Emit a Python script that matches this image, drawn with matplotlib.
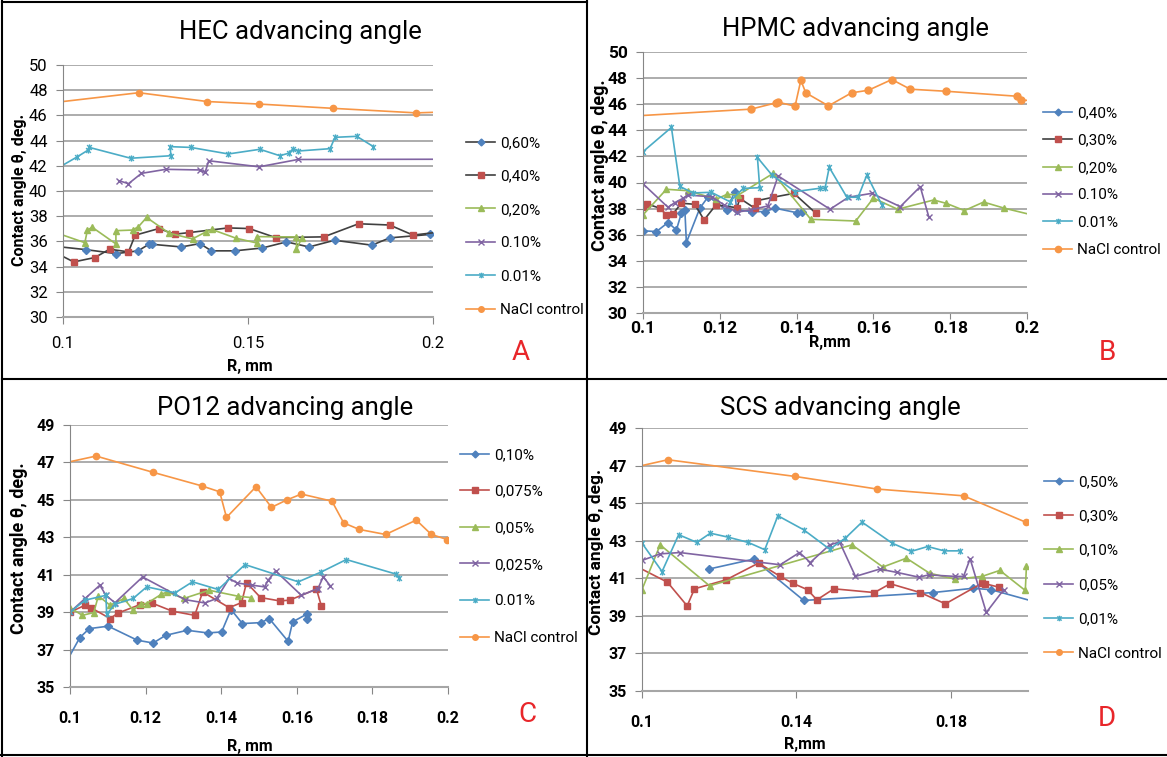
import matplotlib
matplotlib.use("Agg")
import matplotlib.pyplot as plt
from matplotlib.lines import Line2D
from matplotlib.path import Path
from matplotlib import font_manager

# ---------------- data ----------------
# A: HEC
hec_labels = ["0,60%", "0,40%", "0,20%", "0.10%", "0.01%", "NaCl control"]
hec_060_x = [0.095, 0.1061, 0.1144, 0.1203, 0.1232, 0.1241, 0.132, 0.137, 0.1401, 0.1464,
             0.1539, 0.1604, 0.1665, 0.1734, 0.1835, 0.1883, 0.1991, 0.205]
hec_060_y = [35.7, 35.35, 35.03, 35.25, 35.77, 35.77, 35.56, 35.83, 35.25, 35.25,
             35.48, 35.96, 35.56, 36.09, 35.7, 36.28, 36.55, 36.6]
hec_040_x = [0.098, 0.1029, 0.1086, 0.1126, 0.1177, 0.1195, 0.1259, 0.1302, 0.1341, 0.1446,
             0.1503, 0.1575, 0.1705, 0.1799, 0.1883, 0.1946, 0.205]
hec_040_y = [35.1, 34.37, 34.72, 35.38, 35.17, 36.49, 37.02, 36.57, 36.7, 37.07,
             37.02, 36.3, 36.36, 37.4, 37.3, 36.5, 36.85]
hec_020_x = [0.098, 0.1059, 0.1066, 0.1079, 0.1143, 0.1143, 0.1188, 0.1204, 0.1226, 0.1287,
             0.135, 0.1386, 0.1402, 0.1468, 0.1523, 0.1523, 0.1631, 0.1631, 0.1645]
hec_020_y = [36.7, 35.9, 36.9, 37.12, 35.8, 36.85, 36.9, 37.17, 37.9, 36.65,
             36.2, 36.75, 36.95, 36.25, 35.88, 36.38, 36.35, 35.37, 36.25]
hec_010_x = [0.1151, 0.1177, 0.1212, 0.1278, 0.1371, 0.1384, 0.1394, 0.153, 0.1635, 0.22]
hec_010_y = [40.82, 40.58, 41.4, 41.72, 41.67, 41.47, 42.4, 41.92, 42.5, 42.53]
hec_001_x = [0.097, 0.1039, 0.1068, 0.1071, 0.1183, 0.1292, 0.1289, 0.1345, 0.1447, 0.1532,
             0.1586, 0.161, 0.1622, 0.1634, 0.1722, 0.1735, 0.1794, 0.1839]
hec_001_y = [41.55, 42.72, 43.25, 43.46, 42.6, 42.8, 43.52, 43.46, 42.94, 43.31,
             42.8, 43.0, 43.36, 43.17, 43.36, 44.26, 44.34, 43.52]
hec_nacl_x = [0.09, 0.1205, 0.139, 0.153, 0.173, 0.1955, 0.206]
hec_nacl_y = [46.76, 47.8, 47.1, 46.9, 46.56, 46.2, 46.3]

# B: HPMC
hpmc_labels = ["0,40%", "0,30%", "0,20%", "0.10%", "0.01%", "NaCl control"]
hpmc_040_x = [0.1, 0.1035, 0.1065, 0.1087, 0.11, 0.1109, 0.1113, 0.1148, 0.117, 0.1218,
              0.1239, 0.1244, 0.1283, 0.1317, 0.1344, 0.14, 0.1413]
hpmc_040_y = [36.3, 36.24, 36.93, 36.37, 37.65, 37.9, 35.4, 38.03, 38.92, 37.9,
              39.3, 37.9, 37.77, 37.77, 38.03, 37.69, 37.77]
hpmc_030_x = [0.1, 0.101, 0.1044, 0.1061, 0.1078, 0.11, 0.1135, 0.1159, 0.119, 0.1245,
              0.1252, 0.1291, 0.1297, 0.1339, 0.1393, 0.145]
hpmc_030_y = [38.15, 38.36, 38.03, 37.52, 37.6, 38.41, 38.33, 37.13, 38.28, 38.07,
              38.79, 38.03, 38.61, 38.87, 39.17, 37.65]
hpmc_020_x = [0.1, 0.1061, 0.1117, 0.1191, 0.1219, 0.1248, 0.1339, 0.1437, 0.1554, 0.16,
              0.1663, 0.1757, 0.179, 0.1837, 0.1887, 0.1941, 0.205]
hpmc_020_y = [37.52, 39.48, 39.37, 38.72, 39.1, 39.04, 40.7, 37.18, 37.05, 38.8,
              37.95, 38.66, 38.4, 37.85, 38.5, 38.03, 37.25]
hpmc_010_x = [0.1, 0.1065, 0.1083, 0.1105, 0.1117, 0.118, 0.121, 0.1244, 0.128, 0.1325,
              0.1352, 0.1487, 0.1535, 0.1596, 0.167, 0.1722, 0.1744]
hpmc_010_y = [39.9, 38.1, 38.46, 38.8, 39.04, 38.9, 38.3, 37.72, 37.9, 38.2,
              40.5, 37.95, 38.87, 39.17, 38.15, 39.68, 37.39]
hpmc_001_x = [0.1, 0.1074, 0.1096, 0.113, 0.1178, 0.1226, 0.1261, 0.1304, 0.1298, 0.1335,
              0.1396, 0.1461, 0.1474, 0.1485, 0.1531, 0.156, 0.1583, 0.1622]
hpmc_001_y = [42.36, 44.22, 39.7, 39.2, 39.25, 38.53, 39.55, 39.6, 41.92, 40.6,
              39.3, 39.56, 39.56, 41.16, 38.87, 38.87, 40.57, 38.28]
hpmc_nacl_x = [0.095, 0.1281, 0.1346, 0.1352, 0.1396, 0.1411, 0.1424, 0.1483, 0.1543, 0.1587,
               0.1648, 0.1696, 0.179, 0.1974, 0.1985, 0.205]
hpmc_nacl_y = [45.05, 45.62, 46.1, 46.15, 45.85, 47.83, 46.87, 45.87, 46.87, 47.07,
               47.89, 47.15, 46.99, 46.61, 46.31, 46.25]

# C: PO12
po_labels = ["0,10%", "0,075%", "0,05%", "0,025%", "0.01%", "NaCl control"]
po_010_x = [0.099, 0.1026, 0.1051, 0.1101, 0.1178, 0.122, 0.1253, 0.131, 0.1364, 0.1401,
            0.1426, 0.1456, 0.1505, 0.1527, 0.1577, 0.1589, 0.1626, 0.1627]
po_010_y = [36.33, 37.64, 38.12, 38.25, 37.5, 37.35, 37.76, 38.03, 37.89, 37.94,
            39.14, 38.39, 38.44, 38.66, 37.44, 38.48, 38.89, 38.66]
po_0075_x = [0.1, 0.104, 0.1055, 0.1106, 0.1128, 0.1185, 0.1216, 0.1271, 0.133, 0.1351,
             0.1421, 0.1454, 0.1467, 0.1504, 0.1555, 0.1581, 0.1652, 0.1665]
po_0075_y = [39.0, 39.37, 39.24, 38.66, 38.96, 39.4, 39.49, 39.05, 38.83, 40.08,
             39.24, 39.51, 40.58, 39.78, 39.6, 39.64, 40.23, 39.33]
po_005_x = [0.1, 0.1033, 0.1063, 0.1075, 0.1106, 0.1143, 0.1167, 0.1189, 0.1203, 0.1242,
            0.1257, 0.1301, 0.1368, 0.1445, 0.1478]
po_005_y = [39.23, 38.83, 38.98, 39.87, 39.37, 39.73, 39.1, 39.46, 39.46, 39.96,
            40.08, 39.73, 40.17, 39.85, 39.78]
po_0025_x = [0.1, 0.104, 0.1079, 0.1095, 0.1119, 0.1192, 0.1304, 0.1357, 0.1388, 0.1421,
             0.1442, 0.1482, 0.1515, 0.1524, 0.1544, 0.1612, 0.1656, 0.167, 0.1689]
po_0025_y = [39.0, 39.73, 40.44, 39.9, 39.5, 40.88, 39.67, 39.49, 39.73, 40.8,
             40.56, 40.44, 40.35, 40.7, 41.2, 39.9, 40.26, 40.89, 40.39]
po_001_x = [0.1, 0.104, 0.1095, 0.1097, 0.1119, 0.1167, 0.1203, 0.1278, 0.1324, 0.1392,
            0.1463, 0.1604, 0.1665, 0.1731, 0.1863, 0.187]
po_001_y = [39.0, 39.64, 39.9, 38.89, 39.42, 39.73, 40.35, 40.03, 40.62, 40.21,
            41.54, 40.62, 41.15, 41.81, 41.03, 40.8]
po_nacl_x = [0.095, 0.1069, 0.122, 0.1348, 0.1396, 0.1414, 0.1492, 0.1533, 0.1573, 0.1612,
             0.1693, 0.1724, 0.1765, 0.1835, 0.1916, 0.1956, 0.1998]
po_nacl_y = [46.82, 47.34, 46.47, 45.75, 45.43, 44.06, 45.7, 44.6, 44.99, 45.31,
             44.93, 43.77, 43.42, 43.15, 43.92, 43.15, 42.88]

# D: SCS
scs_labels = ["0,50%", "0,30%", "0,10%", "0,05%", "0,01%", "NaCl control"]
scs_050_x = [0.1173, 0.1289, 0.1419, 0.1754, 0.1858, 0.1905, 0.21]
scs_050_y = [41.49, 42.02, 39.82, 40.24, 40.47, 40.39, 39.28]
scs_030_x = [0.097, 0.1066, 0.1117, 0.1136, 0.1218, 0.1302, 0.1358, 0.139, 0.1429, 0.1453,
             0.1497, 0.1602, 0.1643, 0.1721, 0.1786, 0.1881, 0.1889, 0.1924]
scs_030_y = [41.8, 40.79, 39.53, 40.44, 40.92, 41.81, 41.1, 40.74, 40.39, 39.85,
             40.44, 40.24, 40.71, 40.24, 39.64, 40.74, 40.71, 40.53]
scs_010_x = [0.1, 0.1047, 0.1175, 0.1544, 0.1624, 0.1685, 0.1745, 0.1812, 0.1881, 0.1927,
             0.1993, 0.1996]
scs_010_y = [40.4, 42.78, 40.6, 42.78, 41.6, 42.07, 41.27, 40.95, 41.1, 41.42,
             40.35, 41.66]
scs_005_x = [0.1, 0.1047, 0.1098, 0.1358, 0.1408, 0.1436, 0.1486, 0.1512, 0.1553, 0.1616,
             0.1661, 0.1717, 0.1743, 0.1812, 0.1833, 0.185, 0.1892, 0.1937]
scs_005_y = [41.95, 42.3, 42.37, 41.72, 42.37, 41.84, 42.78, 42.93, 41.1, 41.49,
             41.31, 41.06, 41.18, 41.1, 41.1, 42.04, 39.18, 40.39]
scs_001_x = [0.1, 0.1052, 0.1095, 0.1142, 0.1177, 0.1223, 0.1275, 0.1318, 0.1352, 0.1419,
             0.1486, 0.1527, 0.157, 0.1648, 0.1697, 0.174, 0.1783, 0.1823]
scs_001_y = [42.87, 41.36, 43.32, 42.91, 43.4, 43.19, 42.91, 42.52, 44.33, 43.58,
             42.55, 43.14, 43.99, 42.87, 42.43, 42.69, 42.46, 42.46]
scs_nacl_x = [0.095, 0.1067, 0.1397, 0.1609, 0.1833, 0.1996]
scs_nacl_y = [46.77, 47.31, 46.42, 45.75, 45.39, 43.97]

# ---------------- styling ----------------
names = {f.name for f in font_manager.fontManager.ttflist}
base_font = "Liberation Sans Narrow" if "Liberation Sans Narrow" in names else "Roboto"
plt.rcParams["font.family"] = [base_font, "DejaVu Sans"]

BLUE, RED, GREEN = "#4f81bd", "#c0504d", "#9bbb59"
PURPLE, CYAN, ORANGE = "#8064a2", "#4bacc6", "#f79646"
DARK = "#404040"
GRID = "#a6a6a6"

# Excel-like asterisk marker: x plus a vertical bar
star = Path([(-1, -1), (1, 1), (-1, 1), (1, -1), (0, -1.3), (0, 1.3)],
            [Path.MOVETO, Path.LINETO] * 3)

# (line colour, marker, marker colour, marker size)
style_a = [(DARK, "D", BLUE, 4), (DARK, "s", RED, 4.5), (GREEN, "^", GREEN, 5),
           (PURPLE, "x", PURPLE, 4.5), (CYAN, star, CYAN, 4.5), (ORANGE, "o", ORANGE, 4.5)]
style_b = [(BLUE, "D", BLUE, 4), (DARK, "s", RED, 5), (GREEN, "^", GREEN, 5),
           (PURPLE, "x", PURPLE, 4.5), (CYAN, star, CYAN, 4.5), (ORANGE, "o", ORANGE, 5)]
style_cd = [(BLUE, "D", BLUE, 4), (RED, "s", RED, 4.5), (GREEN, "^", GREEN, 5),
            (PURPLE, "x", PURPLE, 4.5), (CYAN, star, CYAN, 4.5), (ORANGE, "o", ORANGE, 4.5)]

W, H = 1167, 757
fig = plt.figure(figsize=(W / 100, H / 100), dpi=100)


def px(x, y):
    return x / W, 1 - y / H


def panel(box, series, styles, labels, xticks, xticklabels, ylim, yticks,
          tick_bold, tick_size):
    l, t, r, b = box
    ax = fig.add_axes([l / W, 1 - b / H, (r - l) / W, (b - t) / H])
    handles = []
    for (x, y), (lc, mk, mc, ms), lab in zip(series, styles, labels):
        ax.plot(x, y, color=lc, lw=1.2, marker=mk, ms=ms, mfc=mc, mec=mc, mew=1.0)
        handles.append(Line2D([], [], color=lc, lw=1.2, marker=mk, ms=ms - 0.5,
                              mfc=mc, mec=mc, mew=1.0))
    ax.set_xlim(0.1, 0.2)
    ax.set_ylim(*ylim)
    ax.set_xticks(xticks)
    ax.set_xticklabels(xticklabels)
    ax.set_yticks(yticks)
    ax.grid(axis="y", color=GRID, lw=1.3)
    ax.set_axisbelow(True)
    for s in ("top", "right"):
        ax.spines[s].set_visible(False)
    ax.spines["left"].set_color("#868686")
    ax.spines["bottom"].set_color(GRID)
    ax.spines["bottom"].set_linewidth(1.5)
    ax.tick_params(length=5, color="#868686", labelsize=tick_size, pad=6,
                   labelcolor="black")
    for lab in ax.get_xticklabels() + ax.get_yticklabels():
        lab.set_fontweight("bold" if tick_bold else "normal")
    return ax, handles


def legend(handles, labels, x, y, spacing, size=11):
    fig.legend(handles, labels, loc="upper left", bbox_to_anchor=px(x, y),
               frameon=False, handlelength=1.9, handletextpad=0.35,
               labelspacing=spacing, borderpad=0, borderaxespad=0,
               numpoints=1, fontsize=size)


# ---- A ----
ax, h = panel((63, 65, 433, 317),
              [(hec_060_x, hec_060_y), (hec_040_x, hec_040_y), (hec_020_x, hec_020_y),
               (hec_010_x, hec_010_y), (hec_001_x, hec_001_y), (hec_nacl_x, hec_nacl_y)],
              style_a, hec_labels, [0.1, 0.15, 0.2], ["0.1", "0.15", "0.2"],
              (30, 50), range(30, 51, 2), False, 12)
ax.tick_params(axis="x", pad=9)
legend(h, hec_labels, 466, 136, 1.27)
fig.text(*px(300, 32), "HEC advancing angle", ha="center", va="center", fontsize=18.5)
fig.text(*px(20, 190), "Contact angle θ, deg.", rotation=90, ha="center", va="center",
         fontsize=11.5, fontweight="bold")
fig.text(*px(250, 366), "R, mm", ha="center", va="center", fontsize=11.5, fontweight="bold")
fig.text(*px(521, 352), "A", ha="center", va="center", fontsize=20, color="#e8262a")

# ---- B ----
ax, h = panel((643, 52, 1027, 313),
              [(hpmc_040_x, hpmc_040_y), (hpmc_030_x, hpmc_030_y), (hpmc_020_x, hpmc_020_y),
               (hpmc_010_x, hpmc_010_y), (hpmc_001_x, hpmc_001_y), (hpmc_nacl_x, hpmc_nacl_y)],
              style_b, hpmc_labels, [0.1, 0.12, 0.14, 0.16, 0.18, 0.2],
              ["0.1", "0.12", "0.14", "0.16", "0.18", "0.2"],
              (30, 50), range(30, 51, 2), True, 12.5)
ax.tick_params(axis="x", pad=2, length=4)
legend(h, hpmc_labels, 1043, 106, 0.88)
fig.text(*px(855, 29), "HPMC advancing angle", ha="center", va="center", fontsize=18.5)
fig.text(*px(600, 165), "Contact angle θ, deg.", rotation=90, ha="center", va="center",
         fontsize=13, fontweight="bold")
fig.text(*px(830, 343), "R,mm", ha="center", va="center", fontsize=11.5, fontweight="bold")
fig.text(*px(1107, 352), "B", ha="center", va="center", fontsize=20, color="#e8262a")

# ---- C ----
ax, h = panel((70, 425, 448, 687),
              [(po_010_x, po_010_y), (po_0075_x, po_0075_y), (po_005_x, po_005_y),
               (po_0025_x, po_0025_y), (po_001_x, po_001_y), (po_nacl_x, po_nacl_y)],
              style_cd, po_labels, [0.1, 0.12, 0.14, 0.16, 0.18, 0.2],
              ["0.1", "0.12", "0.14", "0.16", "0.18", "0.2"],
              (35, 49), range(35, 50, 2), True, 11.5)
ax.tick_params(axis="x", pad=12)
legend(h, po_labels, 460, 448, 1.48)
fig.text(*px(285, 408), "PO12 advancing angle", ha="center", va="center", fontsize=18.5)
fig.text(*px(19, 548), "Contact angle θ, deg.", rotation=90, ha="center", va="center",
         fontsize=13, fontweight="bold")
fig.text(*px(250, 746), "R, mm", ha="center", va="center", fontsize=11.5, fontweight="bold")
fig.text(*px(527, 715), "C", ha="center", va="center", fontsize=20, color="#e8262a")

# ---- D ----
ax, h = panel((642, 428, 1028, 691),
              [(scs_050_x, scs_050_y), (scs_030_x, scs_030_y), (scs_010_x, scs_010_y),
               (scs_005_x, scs_005_y), (scs_001_x, scs_001_y), (scs_nacl_x, scs_nacl_y)],
              style_cd, scs_labels, [0.1, 0.14, 0.18], ["0.1", "0.14", "0.18"],
              (35, 49), range(35, 50, 2), True, 11.5)
ax.tick_params(axis="x", pad=12)
legend(h, scs_labels, 1044, 475, 1.33)
fig.text(*px(840, 408), "SCS advancing angle", ha="center", va="center", fontsize=18.5)
fig.text(*px(596, 552), "Contact angle θ, deg.", rotation=90, ha="center", va="center",
         fontsize=12.5, fontweight="bold")
fig.text(*px(805, 744), "R,mm", ha="center", va="center", fontsize=11.5, fontweight="bold")
fig.text(*px(1107, 718), "D", ha="center", va="center", fontsize=20, color="#e8262a")

# panel frames
for (x0, y0), (x1, y1) in [((587, 0), (587, 757)), ((2, 379), (1167, 379)),
                           ((2, 2), (587, 2)), ((2, 0), (2, 757)), ((0, 755), (1167, 755))]:
    fig.add_artist(Line2D([x0 / W, x1 / W], [1 - y0 / H, 1 - y1 / H],
                          transform=fig.transFigure, color="black", lw=1.5))

fig.savefig("out.png", dpi=100)
